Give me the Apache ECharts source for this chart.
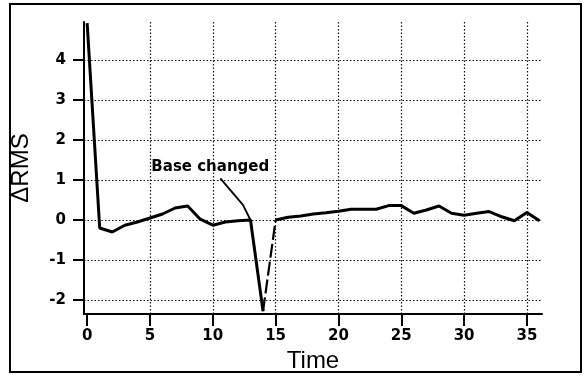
<!DOCTYPE html>
<html>
<head>
<meta charset="utf-8">
<script src="https://cdn.jsdelivr.net/npm/echarts@6/dist/echarts.min.js"></script>
<style>
  html, body { margin: 0; padding: 0; background: #fff; }
  #chart { width: 583px; height: 379px; }
</style>
</head>
<body>
<div id="chart"></div>
<script>
// Time steps and the change in RMS at each step
var times = [0, 1, 2, 3, 4, 5, 6, 7, 8, 9, 10, 11, 12, 13, 14, 15, 16, 17, 18,
             19, 20, 21, 22, 23, 24, 25, 26, 27, 28, 29, 30, 31, 32, 33, 34, 35, 36];
var deltaRms = [4.92, -0.2, -0.3, -0.13, -0.05, 0.05, 0.15, 0.3, 0.35, 0.02, -0.13,
                -0.05, -0.02, 0, -2.28, 0, 0.07, 0.1, 0.15, 0.18, 0.22, 0.27, 0.27,
                0.27, 0.36, 0.36, 0.17, 0.25, 0.35, 0.17, 0.12, 0.17, 0.21, 0.08,
                -0.02, 0.19, -0.02];
// index at which the base was changed; the recovery step after it is dashed
var baseChangeIndex = 14;

// Axis ranges and tick values
var xRange = [-0.25, 36.2];
var yRange = [-2.35, 4.95];
var xTicks = [0, 5, 10, 15, 20, 25, 30, 35];
var yTicks = [-2, -1, 0, 1, 2, 3, 4];
var xGridTicks = [5, 10, 15, 20, 25, 30, 35];

// Annotation
var noteText = 'Base changed';
var noteAt = [9.8, 1.33];
var pointerT = [10.6, 12.4, 13];
var pointerV = [1.04, 0.38, 0];

function pairs(ts, vs, from, to) {
  var out = [];
  for (var i = from; i <= to; i++) out.push([ts[i], vs[i]]);
  return out;
}

var last = times.length - 1;
var lineStyle = { color: '#000', width: 3 };
var gridLineStyle = { color: '#111', width: 1.2, type: [1.5, 2] };
var tickLineStyle = { color: '#000', width: 2, type: 'solid' };
var labelFont = { color: '#000', fontFamily: 'DejaVu Sans', fontWeight: 'bold', fontSize: 15 };

// only the listed tick values get a label
function isTick(list) {
  return function (v) {
    for (var i = 0; i < list.length; i++) if (Math.abs(list[i] - v) < 1e-6) return String(list[i]);
    return '';
  };
}

// reference lines at given axis values, drawn on an otherwise empty series
function ruleSeries(axisKey, values, style, xi, yi) {
  return {
    type: 'line',
    xAxisIndex: xi,
    yAxisIndex: yi,
    data: [],
    silent: true,
    markLine: {
      silent: true,
      symbol: ['none', 'none'],
      label: { show: false },
      lineStyle: style,
      animation: false,
      data: values.map(function (v) { var o = {}; o[axisKey] = v; return o; })
    },
    z: 1
  };
}

function hiddenAxis(type, range, gridIndex) {
  return { type: type, gridIndex: gridIndex, min: range[0], max: range[1], show: false };
}

var chart = echarts.init(document.getElementById('chart'), null, { renderer: 'canvas' });

chart.setOption({
  backgroundColor: '#fff',
  animation: false,
  grid: [
    // plot area
    { left: 84, right: 41, top: 22, bottom: 65, containLabel: false },
    // strip left of the y-axis that carries its tick marks
    { left: 73, width: 11, top: 22, bottom: 65, containLabel: false },
    // strip under the x-axis that carries its tick marks
    { left: 84, right: 41, top: 314, height: 12, containLabel: false }
  ],
  xAxis: [
    {
      type: 'value',
      gridIndex: 0,
      min: xRange[0],
      max: xRange[1],
      splitNumber: 7,
      name: 'Time',
      nameLocation: 'middle',
      nameGap: 33,
      nameTextStyle: { fontFamily: 'Liberation Sans', fontSize: 24, color: '#000' },
      axisLine: { show: true, onZero: false, lineStyle: { color: '#000', width: 2 } },
      axisTick: { show: false },
      axisLabel: Object.assign({ show: true, margin: 15, showMinLabel: false, showMaxLabel: false,
                                 formatter: isTick(xTicks) }, labelFont),
      splitLine: { show: false }
    },
    hiddenAxis('value', [0, 1], 1),
    hiddenAxis('value', xRange, 2)
  ],
  yAxis: [
    {
      type: 'value',
      gridIndex: 0,
      min: yRange[0],
      max: yRange[1],
      splitNumber: 8,
      name: '\u0394RMS',
      nameLocation: 'middle',
      nameGap: 51,
      nameTextStyle: { fontFamily: 'Liberation Sans', fontSize: 24, color: '#000' },
      axisLine: { show: true, onZero: false, lineStyle: { color: '#000', width: 2 } },
      axisTick: { show: false },
      axisLabel: Object.assign({ show: true, margin: 18, showMinLabel: false, showMaxLabel: false,
                                 formatter: isTick(yTicks) }, labelFont),
      splitLine: { show: false }
    },
    hiddenAxis('value', yRange, 1),
    hiddenAxis('value', [0, 1], 2)
  ],
  graphic: [{
    type: 'rect',
    shape: { x: 10, y: 4, width: 571, height: 368 },
    style: { fill: null, stroke: '#000', lineWidth: 2 },
    silent: true,
    z: 100
  }],
  series: [
    // dotted grid at the tick values
    ruleSeries('yAxis', yTicks, gridLineStyle, 0, 0),
    ruleSeries('xAxis', xGridTicks, gridLineStyle, 0, 0),
    // outward tick marks
    ruleSeries('yAxis', yTicks, tickLineStyle, 1, 1),
    ruleSeries('xAxis', xTicks, tickLineStyle, 2, 2),
    {
      type: 'line',
      data: pairs(times, deltaRms, 0, baseChangeIndex),
      showSymbol: false,
      lineStyle: lineStyle,
      z: 5
    },
    {
      type: 'line',
      data: pairs(times, deltaRms, baseChangeIndex, baseChangeIndex + 1),
      showSymbol: false,
      lineStyle: { color: '#000', width: 2.2, type: [14, 4] },
      z: 5
    },
    {
      type: 'line',
      data: pairs(times, deltaRms, baseChangeIndex + 1, last),
      showSymbol: false,
      lineStyle: lineStyle,
      z: 5
    },
    {
      // pointer from the note to the point where the base changed
      type: 'line',
      data: pointerT.map(function (t, i) { return [t, pointerV[i]]; }),
      showSymbol: false,
      lineStyle: { color: '#000', width: 1.8 },
      markPoint: {
        symbol: 'circle',
        symbolSize: 0,
        label: {
          show: true,
          formatter: noteText,
          color: '#000',
          fontFamily: 'DejaVu Sans',
          fontWeight: 'bold',
          fontSize: 15,
          position: 'inside'
        },
        data: [{ coord: noteAt }]
      },
      z: 6
    }
  ]
});
</script>
</body>
</html>
